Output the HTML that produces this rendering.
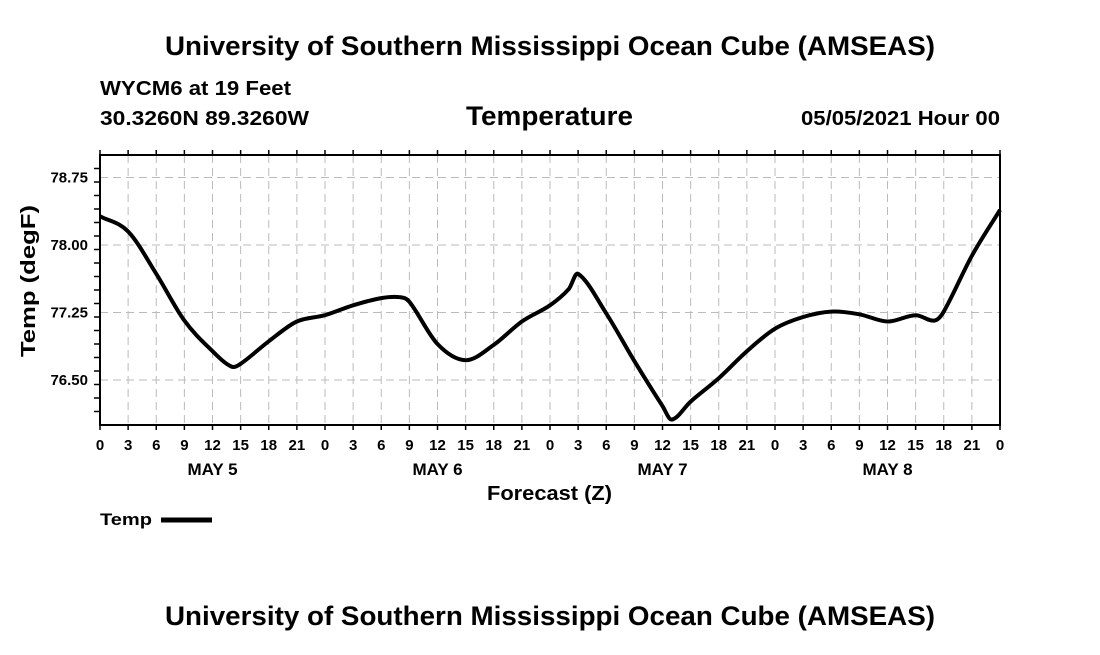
<!DOCTYPE html>
<html><head><meta charset="utf-8"><style>
body{margin:0;background:#fff;}
svg text{font-family:"Liberation Sans",sans-serif;font-weight:bold;fill:#000;}
</style></head><body>
<svg id="chart" width="1100" height="650" xmlns="http://www.w3.org/2000/svg">
<rect width="1100" height="650" fill="#fff"/>
<text x="165" y="55" font-size="27" textLength="770" lengthAdjust="spacingAndGlyphs">University of Southern Mississippi Ocean Cube (AMSEAS)</text>
<text x="100" y="95" font-size="20" textLength="191" lengthAdjust="spacingAndGlyphs">WYCM6 at 19 Feet</text>
<text x="100" y="125" font-size="20" textLength="209" lengthAdjust="spacingAndGlyphs">30.3260N  89.3260W</text>
<text x="466" y="125" font-size="27" textLength="167" lengthAdjust="spacingAndGlyphs">Temperature</text>
<text x="801" y="125" font-size="20" textLength="199" lengthAdjust="spacingAndGlyphs">05/05/2021 Hour 00</text>
<g id="grid"></g>
<g id="axes"></g>
<path id="line" fill="none" stroke="#000" stroke-width="4" stroke-linejoin="round"/>
<rect x="100" y="155" width="900" height="270" fill="none" stroke="#000" stroke-width="2"/>
<text transform="translate(35,281) rotate(-90)" font-size="20" text-anchor="middle" textLength="152" lengthAdjust="spacingAndGlyphs">Temp (degF)</text>
<text x="487" y="500" font-size="20" textLength="125" lengthAdjust="spacingAndGlyphs">Forecast (Z)</text>
<text x="100" y="525" font-size="17" textLength="52" lengthAdjust="spacingAndGlyphs">Temp</text>
<line x1="161" y1="520" x2="212" y2="520" stroke="#000" stroke-width="5"/>
<text x="165" y="625" font-size="27" textLength="770" lengthAdjust="spacingAndGlyphs">University of Southern Mississippi Ocean Cube (AMSEAS)</text>
</svg>
<script>
const hours=[0,3,6,9,12,14,15,18,21,24,27,30,32,33,36,39,42,45,48,50,51,54,57,60,61,63,66,69,72,75,78,81,84,87,89,90,93,96];
const temps=[78.32,78.15,77.68,77.16,76.82,76.65,76.68,76.93,77.15,77.22,77.33,77.41,77.42,77.37,76.90,76.72,76.89,77.15,77.33,77.51,77.68,77.24,76.71,76.21,76.06,76.26,76.52,76.82,77.07,77.20,77.26,77.23,77.15,77.22,77.16,77.26,77.88,78.39];
const yTicks=[76.50,77.25,78.00,78.75];
const xTickLabels=["0","3","6","9","12","15","18","21"];
const dayLabels=["MAY 5","MAY 6","MAY 7","MAY 8"];
const X0=100,X1=1000,Y0=425,Y1=155,HMAX=96,TMIN=76.0,TMAX=79.0;
const xs=h=>X0+(h/HMAX)*(X1-X0);
const ys=v=>Y0-(v-TMIN)/(TMAX-TMIN)*(Y0-Y1);
const NS="http://www.w3.org/2000/svg";
const grid=document.getElementById('grid'),axes=document.getElementById('axes');
function mk(tag,attrs,parent){const e=document.createElementNS(NS,tag);for(const k in attrs)e.setAttribute(k,attrs[k]);parent.appendChild(e);return e;}
yTicks.forEach(v=>{
  const l=mk('line',{x1:X0,x2:X1,y1:ys(v),y2:ys(v),stroke:'#bbb','stroke-width':1,'stroke-dasharray':'8,5'},grid);
  
  
  const t=mk('text',{x:88,y:ys(v)+5,'font-size':15,'text-anchor':'end'},axes);
  
  
  t.textContent=v.toFixed(2);
});
for(let v=TMIN+0.15;v<TMAX;v+=0.15){
  const k=mk('line',{x1:X0-6,x2:X0,y1:ys(v),y2:ys(v),stroke:'#000','stroke-width':1.5},axes);
  
  
}
for(let h=0;h<=HMAX;h+=3){
  const x=xs(h);
  if(h>0&&h<HMAX){const g=mk('line',{x1:x,x2:x,y1:Y1,y2:Y0,stroke:'#bbb','stroke-width':1,'stroke-dasharray':'8,5'},grid);
  
  }
  const tk=mk('line',{x1:x,x2:x,y1:Y1-5,y2:Y1,stroke:'#000','stroke-width':1.5},axes);
  
  
  const tb=mk('line',{x1:x,x2:x,y1:Y0,y2:Y0+5,stroke:'#000','stroke-width':1.5},axes);
  
  
  const t=mk('text',{x:x,y:450,'font-size':15,'text-anchor':'middle'},axes);
  
  
  t.textContent=xTickLabels[(h/3)%8];
}
dayLabels.forEach((d,i)=>{
  const t=mk('text',{x:xs(i*24+12),y:475,'font-size':17,'text-anchor':'middle'},axes);
  
  
  t.textContent=d;
});
const n=hours.length;
const P=hours.map((h,i)=>[xs(h),ys(temps[i])]);
function slope(i){
  const a=Math.max(0,i-1),b=Math.min(n-1,i+1);
  return (P[b][1]-P[a][1])/(P[b][0]-P[a][0]);
}
let d=`M${P[0][0]},${P[0][1]}`;
for(let i=0;i<n-1;i++){
  const dx=(P[i+1][0]-P[i][0])/3;
  const m1=slope(i),m2=slope(i+1);
  d+=` C${P[i][0]+dx},${P[i][1]+m1*dx} ${P[i+1][0]-dx},${P[i+1][1]-m2*dx} ${P[i+1][0]},${P[i+1][1]}`;
}
document.getElementById('line').setAttribute('d',d);
</script>
</body></html>
